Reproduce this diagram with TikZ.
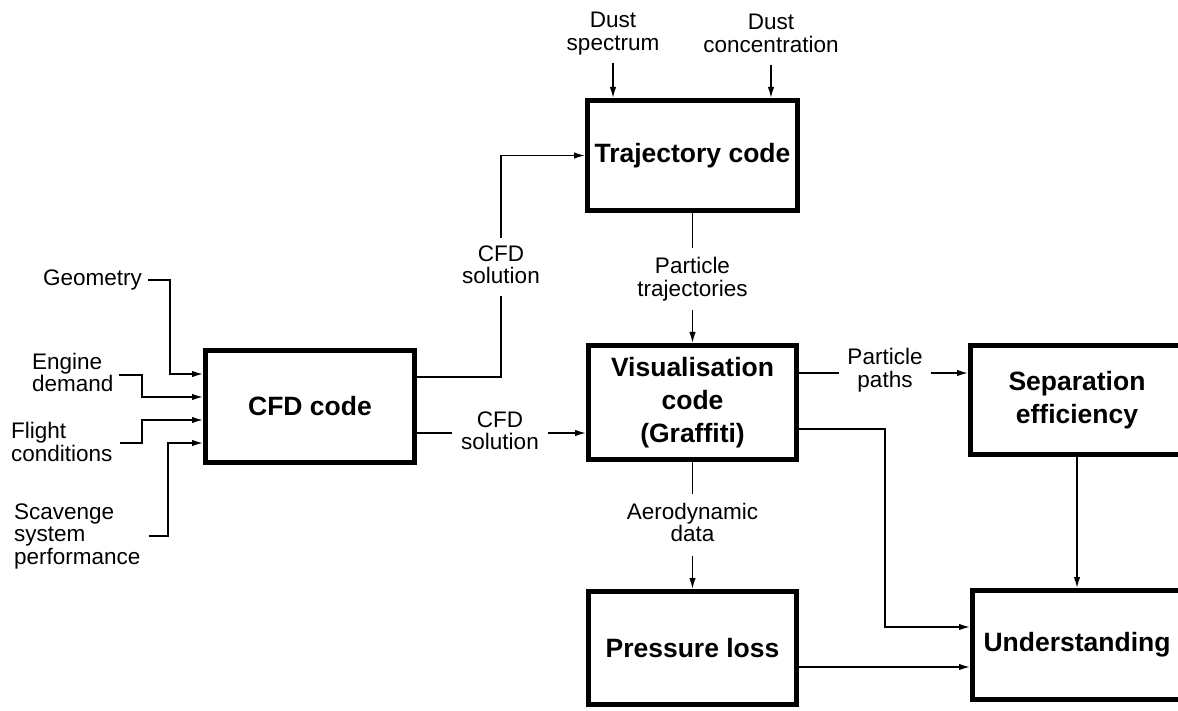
\documentclass[tikz,border=0pt]{standalone}
\usepackage{fontspec}
\setmainfont{Liberation Sans}
\usetikzlibrary{arrows.meta,calc}
\begin{document}
\begin{tikzpicture}[x=1pt,y=-1pt,
  procbox/.style={draw, line width=5pt, inner sep=0pt, align=center,
    font=\fontsize{26.5}{33}\selectfont\bfseries},
  lbl/.style={inner sep=0pt, align=center, font=\fontsize{22.5}{22.5}\selectfont},
  lbll/.style={lbl, align=left},
  link/.style={line width=1.5pt},
  flow/.style={line width=1.5pt, -{Latex[length=11pt,width=6.5pt]}}]
\clip (0,0) rectangle (1178,711);

% process boxes
\node[procbox, minimum width=209pt, minimum height=112pt] (cfd)  at (310,406.5) {CFD code};
\node[procbox, minimum width=210pt, minimum height=110pt] (traj) at (692.5,155.5) {Trajectory code};
\node[procbox, minimum width=208pt, minimum height=114pt] (vis)  at (692.5,402.5) {Visualisation\\code\\(Graffiti)};
\node[procbox, minimum width=208pt, minimum height=113pt] (pl)   at (692.5,648) {Pressure loss};
\node[procbox, minimum width=213pt, minimum height=109pt] (sep)  at (1077,400) {Separation\\efficiency};
\node[procbox, minimum width=209pt, minimum height=109pt] (und)  at (1077,645) {Understanding};

% inputs to the CFD code
\node[lbl, anchor=east] (geo) at (142,280) {Geometry};
\node[lbll, anchor=west] (eng) at (32,372.5) {Engine\\demand};
\node[lbll, anchor=west] (flt) at (11,442) {Flight\\conditions};
\node[lbll, anchor=west] (scv) at (14,536) {Scavenge\\system\\performance};

\coordinate (in1) at ($(cfd.west)+(0,-32.5)$);
\coordinate (in2) at ($(cfd.west)+(0,-9.5)$);
\coordinate (in3) at ($(cfd.west)+(0,13.5)$);
\coordinate (in4) at ($(cfd.west)+(0,36.5)$);

\draw[flow] ($(geo.east)+(6,0)$) -| ($(in1)+(-33,0)$) -- (in1);
\draw[flow] ($(eng.east)+(5,2.5)$) -| ($(in2)+(-61,0)$) -- (in2);
\draw[flow] ($(flt.east)+(7,1)$) -| ($(in3)+(-61,0)$) -- (in3);
\draw[flow] ($(scv.east)+(8,0)$) -| ($(in4)+(-35,0)$) -- (in4);

% dust inputs
\node[lbl] (ds) at (613,33.5) {Dust\\spectrum};
\node[lbl] (dc) at (771,33.5) {Dust\\concentration};
\draw[flow] ($(ds.south)+(0,8)$) -- ($(ds.south |- traj.north)$);
\draw[flow] ($(dc.south)+(0,12)$) -- ($(dc.south |- traj.north)$);

% CFD solution to the trajectory code
\node[lbl] (cs1) at (501,265) {CFD\\solution};
\draw[link] ($(cfd.east)+(0,-29.5)$) -| ($(cs1.south)+(0,12)$);
\draw[flow] ($(cs1.north)+(0,-8)$) |- (traj.west);

% CFD solution to the visualisation code
\node[lbl] (cs2) at (500,431) {CFD\\solution};
\coordinate (c2) at ($(cfd.east)+(0,26.5)$);
\draw[link] (c2) -- ($(c2 -| cs2.west)+(-9,0)$);
\draw[flow] ($(c2 -| cs2.east)+(9,0)$) -- (c2 -| vis.west);

% particle trajectories
\node[lbl] (pt) at (692.5,279) {Particle\\trajectories};
\draw[link] (traj.south) -- ($(pt.north)+(0,-9)$);
\draw[flow] ($(pt.south)+(0,9)$) -- (vis.north);

% aerodynamic data
\node[lbl] (ad) at (692.5,522.5) {Aerodynamic\\data};
\draw[link] (vis.south) -- ($(ad.north)+(0,-9)$);
\draw[flow] ($(ad.south)+(0,14)$) -- (pl.north);

% particle paths
\node[lbl] (pp) at (885,370) {Particle\\paths};
\coordinate (c3) at ($(vis.east)+(0,-29.5)$);
\draw[link] (c3) -- ($(c3 -| pp.west)+(-8,0)$);
\draw[flow] ($(c3 -| pp.east)+(8,0)$) -- (c3 -| sep.west);

% feeds into understanding
\coordinate (c4) at ($(vis.east)+(0,26.5)$);
\coordinate (c5) at ($(und.west)+(0,-18)$);
\draw[flow] (c4) -| ($(c5)+(-85,0)$) -- (c5);
\coordinate (c6) at ($(pl.east)+(0,19)$);
\draw[flow] (c6) -- (c6 -| und.west);
\draw[flow] (sep.south) -- (und.north);
\end{tikzpicture}
\end{document}
